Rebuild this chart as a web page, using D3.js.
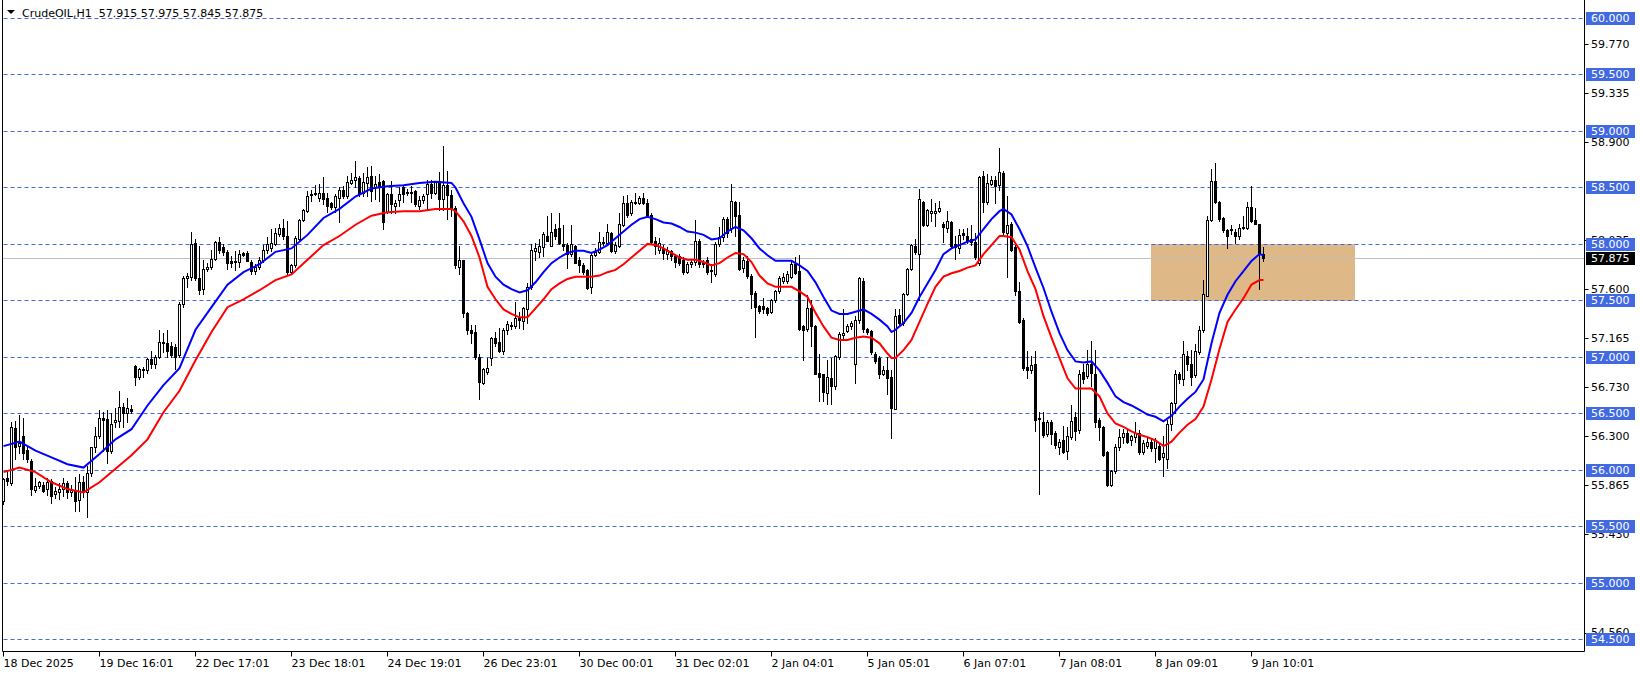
<!DOCTYPE html>
<html><head><meta charset="utf-8">
<script src="https://cdn.jsdelivr.net/npm/d3@7"></script>
<style>html,body{margin:0;padding:0;background:#fff;overflow:hidden}svg{display:block}</style>
</head><body><svg id="c" width="1641" height="675"></svg>
<script>
const open = [
55.72,55.93,55.88,56.37,56.21,56.30,56.18,56.08,55.82,55.86,
55.87,55.83,55.90,55.79,55.80,55.83,55.88,55.80,55.82,55.73,
55.89,55.80,55.97,56.20,56.30,56.46,56.45,56.17,56.42,56.43,
56.56,56.50,56.54,56.92,56.82,56.88,56.88,56.98,56.94,57.00,
57.13,57.12,57.10,57.09,57.02,57.47,57.70,57.71,58.01,57.70,
57.60,57.78,57.80,57.87,58.02,57.97,57.93,57.85,57.85,57.84,
57.92,57.92,57.84,57.76,57.80,57.86,57.95,57.96,58.00,58.09,
58.14,58.07,57.75,57.81,58.04,58.21,58.29,58.43,58.44,58.41,
58.45,58.41,58.36,58.33,58.41,58.48,58.42,58.54,58.57,58.58,
58.45,58.54,58.60,58.50,58.55,58.56,58.28,58.44,58.34,58.39,
58.50,58.46,58.45,58.47,58.34,58.39,58.44,58.53,58.45,58.56,
58.40,58.52,58.43,58.32,57.80,57.86,57.39,57.24,57.22,57.00,
56.77,56.87,56.99,57.17,57.13,57.05,57.24,57.27,57.27,57.34,
57.32,57.42,57.62,57.94,57.93,57.97,58.07,57.98,58.13,58.14,
58.00,57.99,57.91,57.98,57.86,57.81,57.77,57.62,57.90,57.93,
58.01,58.01,58.10,57.94,57.98,58.17,58.36,58.27,58.37,58.36,
58.41,58.36,58.26,58.03,57.95,57.96,57.91,57.94,57.89,57.89,
57.86,57.75,57.82,57.84,58.03,57.84,57.86,57.76,57.73,58.00,
58.06,58.22,58.14,58.37,58.26,57.79,57.85,57.72,57.57,57.45,
57.45,57.43,57.40,57.50,57.58,57.67,57.67,57.71,57.82,57.76,
57.27,57.25,57.43,57.27,56.86,56.85,56.68,56.81,56.74,57.00,
57.19,57.23,57.27,56.94,57.33,57.67,57.25,57.23,57.03,56.99,
56.85,56.88,56.82,56.54,57.37,57.30,57.56,57.78,57.98,57.91,
58.37,58.17,58.27,58.27,58.29,58.18,58.14,58.19,58.00,57.96,
58.10,58.07,58.04,58.02,57.83,58.60,58.37,58.53,58.57,58.52,
58.63,58.10,58.18,57.97,57.58,57.33,56.91,56.88,56.94,56.46,
56.42,56.32,56.42,56.33,56.20,56.26,56.17,56.29,56.47,56.35,
56.87,56.83,56.94,56.85,56.44,56.38,56.16,55.87,55.99,56.20,
56.29,56.33,56.26,56.29,56.33,56.16,56.21,56.25,56.19,56.21,
56.11,56.10,56.41,56.59,56.85,56.80,57.01,56.94,56.84,57.04,
57.24,57.54,58.21,58.56,58.37,58.23,58.12,58.13,58.11,58.07,
58.14,58.14,58.33,58.21,58.18,57.915];
const high = [
55.93,56.00,56.42,56.43,56.49,56.46,56.20,56.10,55.93,55.90,
55.89,55.93,55.92,55.85,55.88,55.93,55.90,55.87,55.94,55.96,
55.95,56.03,56.20,56.38,56.53,56.51,56.53,56.50,56.55,56.70,
56.59,56.64,56.57,56.93,56.90,56.91,56.99,57.05,57.02,57.24,
57.21,57.24,57.13,57.11,57.49,57.72,57.74,58.11,58.04,57.98,
57.86,57.83,57.95,58.03,58.06,58.00,57.95,57.89,57.94,57.95,
57.93,57.94,57.86,57.82,57.88,57.99,58.06,58.13,58.14,58.18,
58.22,58.20,57.82,58.07,58.22,58.31,58.47,58.48,58.52,58.53,
58.59,58.45,58.37,58.44,58.50,58.51,58.60,58.63,58.73,58.60,
58.63,58.68,58.69,58.60,58.62,58.57,58.45,58.56,58.39,58.50,
58.51,58.49,58.51,58.48,58.42,58.44,58.57,58.57,58.56,58.64,
58.87,58.65,58.48,58.34,57.98,57.86,57.40,57.28,57.28,57.03,
56.90,56.99,57.18,57.22,57.26,57.26,57.32,57.31,57.49,57.40,
57.44,57.65,58.00,58.01,58.04,58.11,58.25,58.27,58.18,58.27,
58.17,58.01,58.17,57.99,57.88,57.83,57.78,57.92,57.96,58.11,
58.06,58.18,58.11,58.02,58.27,58.42,58.43,58.39,58.45,58.42,
58.45,58.40,58.27,58.06,58.05,57.99,57.97,57.95,57.91,57.91,
57.88,57.84,57.86,58.21,58.04,57.86,57.88,57.82,58.02,58.15,
58.24,58.24,58.53,58.38,58.37,57.88,57.89,57.73,57.58,57.46,
57.52,57.44,57.51,57.59,57.72,57.74,57.76,57.86,57.88,57.90,
57.28,57.55,57.50,57.28,57.03,56.85,56.97,56.99,57.02,57.22,
57.42,57.29,57.32,57.36,57.71,57.70,57.26,57.24,57.04,57.01,
56.92,57.00,56.88,57.42,57.42,57.57,57.79,58.00,58.04,58.49,
58.38,58.31,58.40,58.36,58.38,58.19,58.29,58.20,58.07,58.13,
58.13,58.14,58.17,58.10,58.60,58.65,58.62,58.60,58.60,58.85,
58.65,58.42,58.19,57.99,57.66,57.34,57.05,57.01,57.05,56.51,
56.51,56.44,56.44,56.34,56.27,56.39,56.38,56.57,56.51,56.88,
56.94,57.06,57.14,57.06,56.46,56.39,56.17,56.00,56.23,56.36,
56.36,56.36,56.31,56.42,56.35,56.26,56.29,56.28,56.28,56.23,
56.30,56.44,56.60,56.88,56.87,57.14,57.05,57.06,57.11,57.27,
57.68,58.25,58.66,58.72,58.38,58.24,58.13,58.17,58.13,58.18,
58.25,58.37,58.51,58.32,58.18,57.975];
const low = [
55.70,55.87,55.87,56.10,56.15,56.10,56.07,55.78,55.80,55.84,
55.80,55.78,55.71,55.75,55.74,55.77,55.75,55.77,55.64,55.64,
55.76,55.58,55.95,56.16,56.28,56.17,56.06,56.15,56.38,56.38,
56.38,56.42,56.50,56.75,56.80,56.82,56.86,56.90,56.90,56.99,
57.04,57.00,57.00,56.89,57.00,57.44,57.62,57.68,57.68,57.56,
57.56,57.76,57.78,57.86,57.92,57.90,57.78,57.80,57.77,57.80,
57.89,57.85,57.73,57.73,57.78,57.84,57.92,57.94,57.99,58.07,
58.04,57.73,57.73,57.80,58.03,58.20,58.28,58.38,58.43,58.38,
58.35,58.28,58.31,58.28,58.19,58.41,58.41,58.53,58.50,58.42,
58.42,58.42,58.38,58.40,58.38,58.13,58.27,58.27,58.27,58.34,
58.37,58.43,58.37,58.34,58.31,58.36,58.30,58.41,58.44,58.30,
58.30,58.22,58.25,57.79,57.73,57.35,57.20,57.12,56.98,56.63,
56.76,56.85,56.93,57.10,57.04,57.03,57.20,57.25,57.26,57.26,
57.25,57.30,57.60,57.86,57.88,57.89,58.03,57.98,58.04,58.00,
57.95,57.79,57.89,57.83,57.75,57.73,57.60,57.57,57.89,57.92,
57.99,58.00,57.93,57.92,57.97,58.16,58.24,58.26,58.35,58.35,
58.35,58.24,58.01,57.91,57.92,57.87,57.87,57.86,57.80,57.81,
57.73,57.74,57.80,57.81,57.80,57.80,57.73,57.66,57.72,57.98,
58.03,58.06,58.11,58.07,57.77,57.75,57.70,57.43,57.18,57.39,
57.39,57.37,57.39,57.49,57.57,57.65,57.65,57.70,57.73,57.24,
56.97,57.23,57.10,56.85,56.61,56.61,56.58,56.58,56.72,56.98,
57.16,57.22,57.25,56.77,57.30,57.22,57.20,57.03,56.95,56.81,
56.84,56.67,56.28,56.54,57.27,57.28,57.55,57.77,57.91,57.50,
58.16,58.16,58.20,58.16,58.28,58.02,58.11,57.96,57.87,57.92,
58.04,58.01,57.99,57.87,57.81,58.28,58.35,58.52,58.36,58.48,
58.08,57.71,57.94,57.55,57.30,56.88,56.81,56.86,56.34,55.79,
56.29,56.30,56.23,56.19,56.14,56.15,56.10,56.27,56.26,56.33,
56.77,56.81,56.74,56.38,56.26,56.12,55.86,55.86,55.97,56.18,
56.24,56.24,56.22,56.25,56.14,56.14,56.19,56.17,56.07,56.09,
55.95,56.02,56.35,56.50,56.77,56.75,56.88,56.75,56.82,57.03,
57.22,57.54,58.20,58.36,58.20,58.11,57.96,58.09,58.01,58.04,
58.13,58.13,58.19,58.18,57.60,57.845];
const close = [
55.92,55.90,56.38,56.20,56.24,56.15,56.10,55.83,55.86,55.89,
55.81,55.89,55.77,55.81,55.83,55.88,55.80,55.82,55.72,55.89,
55.80,55.97,56.20,56.30,56.46,56.44,56.17,56.41,56.44,56.56,
56.50,56.55,56.52,56.82,56.89,56.89,56.98,56.94,57.00,57.13,
57.12,57.05,57.02,57.00,57.47,57.70,57.72,58.00,57.70,57.59,
57.78,57.80,57.87,58.02,57.95,57.93,57.83,57.83,57.84,57.91,
57.90,57.85,57.76,57.80,57.86,57.95,58.00,58.01,58.10,58.14,
58.07,57.75,57.81,58.05,58.21,58.30,58.42,58.44,58.45,58.45,
58.40,58.34,58.33,58.42,58.48,58.42,58.55,58.57,58.59,58.44,
58.55,58.59,58.47,58.53,58.50,58.19,58.44,58.35,58.36,58.44,
58.44,58.45,58.46,58.35,58.39,58.42,58.53,58.45,58.55,58.40,
58.52,58.43,58.32,57.81,57.86,57.39,57.24,57.21,57.00,56.78,
56.89,56.90,57.17,57.12,57.05,57.24,57.29,57.28,57.34,57.33,
57.43,57.62,57.95,57.96,57.98,58.09,58.03,58.11,58.07,58.01,
57.98,57.91,58.00,57.83,57.81,57.75,57.61,57.90,57.93,58.02,
58.02,58.11,57.94,57.99,58.18,58.36,58.26,58.37,58.36,58.41,
58.36,58.26,58.02,57.98,58.01,57.92,57.95,57.89,57.84,57.83,
57.75,57.82,57.84,58.03,57.82,57.82,57.75,57.77,58.00,58.06,
58.22,58.10,58.38,58.25,57.78,57.86,57.72,57.56,57.44,57.41,
57.42,57.39,57.50,57.58,57.70,57.71,57.73,57.82,57.74,57.25,
57.24,57.43,57.27,56.85,56.82,56.69,56.82,56.74,57.01,57.20,
57.21,57.27,57.30,57.33,57.70,57.25,57.22,57.04,56.96,56.85,
56.88,56.81,56.55,57.36,57.30,57.56,57.78,57.99,57.93,58.40,
58.17,58.30,58.29,58.29,58.32,58.15,58.20,57.98,57.97,58.08,
58.08,58.03,58.02,57.88,58.59,58.37,58.54,58.57,58.51,58.64,
58.11,58.17,57.95,57.58,57.31,56.90,56.88,56.93,56.44,56.45,
56.31,56.42,56.32,56.22,56.25,56.16,56.30,56.43,56.34,56.85,
56.80,56.94,56.86,56.42,56.38,56.13,55.87,55.99,56.20,56.29,
56.33,56.25,56.30,56.33,56.16,56.24,56.25,56.19,56.26,56.10,
56.15,56.41,56.59,56.85,56.80,57.03,56.94,56.82,57.05,57.24,
57.56,58.21,58.56,58.37,58.22,58.12,58.07,58.12,58.07,58.14,
58.15,58.33,58.20,58.18,57.92,57.875];

const maBars = [0,4,8,12,16,20,24,28,32,36,40,44,48,52,56,60,64,68,72,76,80,84,88,92,96,100,104,108,112,113,115,117,119,121,123,125,127,129,131,133,135,137,139,141,143,145,147,149,151,153,155,157,159,161,163,165,167,169,171,173,175,177,179,181,183,185,187,189,191,193,195,197,199,201,203,205,207,209,211,213,215,217,219,221,222,223,225,227,229,231,233,235,237,239,241,243,245,247,249,250,252,254,256,258,260,262,264,266,268,270,272,274,276,278,280,282,284,286,288,290,292,294,296,298,300,302,304,306,308,310,312,314,315];
const maBlue = [56.21,56.25,56.17,56.11,56.05,56.02,56.14,56.27,56.36,56.57,56.75,56.90,57.24,57.44,57.64,57.75,57.82,57.93,57.96,58.08,58.23,58.31,58.42,58.49,58.51,58.52,58.54,58.55,58.54,58.50,58.36,58.24,58.04,57.83,57.71,57.64,57.60,57.57,57.59,57.66,57.75,57.83,57.88,57.92,57.94,57.94,57.92,57.95,57.99,58.05,58.11,58.17,58.22,58.24,58.22,58.19,58.18,58.15,58.11,58.10,58.08,58.04,58.05,58.11,58.15,58.12,58.05,57.96,57.90,57.85,57.85,57.85,57.81,57.76,57.66,57.53,57.41,57.38,57.38,57.40,57.42,57.38,57.33,57.27,57.22,57.24,57.30,57.39,57.53,57.65,57.77,57.91,57.96,57.99,58.02,58.04,58.13,58.22,58.29,58.31,58.26,58.13,57.98,57.79,57.61,57.40,57.21,57.06,56.96,56.95,56.96,56.88,56.77,56.65,56.60,56.57,56.53,56.49,56.47,56.43,56.48,56.56,56.63,56.69,56.80,57.12,57.39,57.55,57.67,57.76,57.85,57.91,57.90];
const maRed = [55.98,56.02,55.98,55.89,55.83,55.80,55.89,56.01,56.13,56.27,56.51,56.70,56.97,57.22,57.44,57.51,57.59,57.68,57.73,57.86,57.99,58.07,58.17,58.25,58.28,58.29,58.29,58.31,58.31,58.29,58.20,58.07,57.88,57.62,57.51,57.42,57.38,57.35,57.35,57.43,57.51,57.60,57.65,57.69,57.71,57.71,57.71,57.72,57.75,57.77,57.82,57.88,57.94,58.00,57.99,57.96,57.92,57.88,57.86,57.86,57.84,57.81,57.83,57.88,57.92,57.91,57.84,57.72,57.65,57.62,57.62,57.62,57.58,57.53,57.39,57.27,57.17,57.15,57.15,57.17,57.18,57.17,57.12,57.03,56.99,56.99,57.06,57.15,57.31,57.47,57.62,57.71,57.74,57.76,57.79,57.81,57.91,57.99,58.07,58.07,58.06,57.95,57.76,57.60,57.36,57.17,56.99,56.81,56.72,56.72,56.72,56.65,56.50,56.41,56.38,56.34,56.31,56.29,56.26,56.21,56.25,56.33,56.40,56.45,56.56,56.80,57.07,57.31,57.42,57.52,57.64,57.68,57.68];

const levels = [60.0,59.5,59.0,58.5,58.0,57.5,57.0,56.5,56.0,55.5,55.0,54.5];
const axisTicks = [59.770,59.335,58.900,58.035,57.600,57.165,56.730,56.300,55.865,55.430,54.560];
const timeTickBars = [0,24,48,72,96,120,144,168,192,216,240,264,288,312];
const timeTickLabels = ["18 Dec 2025","19 Dec 16:01","22 Dec 17:01","23 Dec 18:01","24 Dec 19:01","26 Dec 23:01","30 Dec 00:01","31 Dec 02:01","2 Jan 04:01","5 Jan 05:01","6 Jan 07:01","7 Jan 08:01","8 Jan 09:01","9 Jan 10:01"];
const lastPrice = 57.875;
const zoneBars = [287, 338];
const zonePrices = [58.0, 57.5];
const titleText = "CrudeOIL,H1  57.915 57.975 57.845 57.875";

const svg = d3.select("#c");
const FONT = "DejaVu Sans, Verdana, sans-serif";
const plot = {left: 2.5, right: 1584.5, bottom: 651.5};
const x = d3.scaleLinear().domain([0, 1]).range([3.5, 7.5]);
const y = d3.scaleLinear().domain([54.5, 60]).range([639.3, 18]);
const py = v => Math.round(y(v)) + 0.5;

svg.append("rect").attr("width",1641).attr("height",675).attr("fill","#fff");

// zone rectangle
svg.append("rect")
  .attr("x", x(zoneBars[0]) - 0.5).attr("y", Math.round(y(zonePrices[0])))
  .attr("width", x(zoneBars[1]) - x(zoneBars[0]))
  .attr("height", Math.round(y(zonePrices[1])) - Math.round(y(zonePrices[0])) + 1)
  .attr("fill", "#DEB887");

// last price line
svg.append("line").attr("x1", plot.left).attr("x2", plot.right)
  .attr("y1", py(lastPrice)).attr("y2", py(lastPrice))
  .attr("stroke", "#C0C0C0").attr("stroke-width", 1);

// level dashed lines
svg.append("g").selectAll("line").data(levels).join("line")
  .attr("x1", plot.left + 1).attr("x2", plot.right)
  .attr("y1", d => py(d)).attr("y2", d => py(d))
  .attr("stroke", "#4169E1").attr("stroke-width", 1)
  .attr("stroke-dasharray", "4,3");

// candles
const idx = d3.range(open.length);
const cg = svg.append("g");
cg.selectAll("line").data(idx).join("line")
  .attr("x1", i => x(i)).attr("x2", i => x(i))
  .attr("y1", i => Math.round(y(high[i]))).attr("y2", i => Math.round(y(low[i])) + 1)
  .attr("stroke", "#000").attr("stroke-width", 1);
cg.selectAll("rect").data(idx).join("rect")
  .each(function(i) {
    const top = Math.round(y(Math.max(open[i], close[i])));
    const bot = Math.round(y(Math.min(open[i], close[i])));
    const r = d3.select(this);
    if (close[i] > open[i]) {
      r.attr("x", x(i) - 1).attr("y", top + 0.5).attr("width", 2)
       .attr("height", Math.max(bot - top, 0)).attr("fill", "#fff")
       .attr("stroke", "#000").attr("stroke-width", 1);
    } else {
      r.attr("x", x(i) - 1.5).attr("y", top).attr("width", 3)
       .attr("height", Math.max(bot - top + 1, 1)).attr("fill", "#000");
    }
  });

// moving averages
const line = d3.line().x((d, k) => x(maBars[k])).y(d => y(d));
svg.append("path").datum(maRed).attr("d", line).attr("fill", "none")
  .attr("stroke", "#FF0000").attr("stroke-width", 2);
svg.append("path").datum(maBlue).attr("d", line).attr("fill", "none")
  .attr("stroke", "#0000FF").attr("stroke-width", 2);

// frame
svg.append("path")
  .attr("d", `M${plot.left},0 V${plot.bottom} H${plot.right} V0`)
  .attr("fill", "none").attr("stroke", "#000").attr("stroke-width", 1);

// price axis tick labels
const ag = svg.append("g").attr("font-family", FONT).attr("font-size", 11);
ag.selectAll("line").data(axisTicks).join("line")
  .attr("x1", plot.right).attr("x2", plot.right + 4)
  .attr("y1", d => py(d)).attr("y2", d => py(d)).attr("stroke", "#000");
ag.selectAll("text").data(axisTicks).join("text")
  .attr("x", 1591).attr("y", d => y(d)).attr("dy", "0.36em")
  .attr("fill", "#000").text(d => d.toFixed(3));

// level labels
const lg = svg.append("g").attr("font-family", FONT).attr("font-size", 11);
lg.selectAll("rect").data(levels).join("rect")
  .attr("x", 1586).attr("y", d => Math.round(y(d)) - 6).attr("width", 49).attr("height", 13)
  .attr("fill", "#4169E1");
lg.selectAll("text").data(levels).join("text")
  .attr("x", 1591).attr("y", d => Math.round(y(d)) + 0.5).attr("dy", "0.36em")
  .attr("fill", "#fff").text(d => d.toFixed(3));

// last price label
svg.append("rect").attr("x", 1586).attr("y", Math.round(y(lastPrice)) - 6)
  .attr("width", 49).attr("height", 13).attr("fill", "#000");
svg.append("text").attr("x", 1591).attr("y", Math.round(y(lastPrice)) + 0.5).attr("dy", "0.36em")
  .attr("font-family", FONT).attr("font-size", 11).attr("fill", "#fff").text(lastPrice.toFixed(3));

// time axis
const tg = svg.append("g").attr("font-family", FONT).attr("font-size", 11);
tg.selectAll("line").data(timeTickBars).join("line")
  .attr("x1", d => x(d)).attr("x2", d => x(d))
  .attr("y1", plot.bottom).attr("y2", plot.bottom + 5).attr("stroke", "#000");
tg.selectAll("text").data(timeTickBars).join("text")
  .attr("x", d => x(d)).attr("y", 667).attr("fill", "#000")
  .text((d, k) => timeTickLabels[k]);

// title
svg.append("path").attr("d", "M7,10 L15,10 L11,14 Z").attr("fill", "#000");
svg.append("text").attr("x", 22).attr("y", 17).attr("font-family", FONT)
  .attr("font-size", 11).attr("fill", "#000").attr("xml:space", "preserve")
  .style("white-space", "pre").text(titleText);
</script>
</body></html>
